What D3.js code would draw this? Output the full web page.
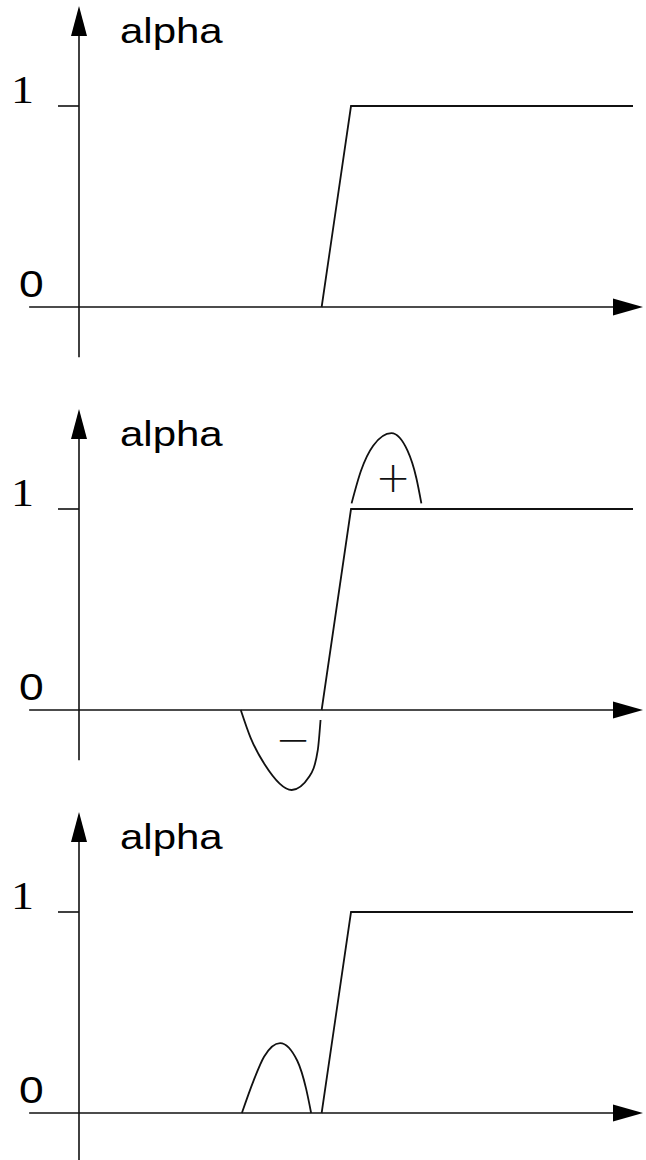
<!DOCTYPE html>
<html>
<head>
<meta charset="utf-8">
<script src="https://cdn.jsdelivr.net/npm/d3@7"></script>
<style>
  html, body { margin: 0; padding: 0; background: #fff; }
  svg { display: block; }
</style>
</head>
<body>
<div id="chart"></div>
<script>
const width = 646;
const height = 1160;

// data (x in 0..100 along the axis, y in alpha units)
const axisTitle = "alpha";
const tickValues = [0, 1];
const tickLabels = ["0", "1"];

const ramp = [[43.8, 0], [49.1, 1], [100, 1]];
const overshoot = [[49.2, 1.028], [50.9, 1.19], [53.1, 1.315], [56.4, 1.377], [59.3, 1.29], [60.9, 1.153], [61.8, 1.028]];
const undershoot = [[29.2, 0], [31.0, -0.14], [33.5, -0.27], [38.4, -0.398], [41.6, -0.33], [43.1, -0.2], [43.6, -0.05]];
const smallBump = [[29.4, 0], [31.5, 0.16], [33.4, 0.28], [36.3, 0.348], [39.4, 0.26], [41.0, 0.12], [41.9, 0]];

const signLabels = [
    { text: "+", x: 56.7, y: 1.155 },
    { text: "\u2212", x: 38.6, y: -0.145 }
];

const panels = [
    { curves: [ramp], signs: [] },
    { curves: [ramp, overshoot, undershoot], signs: signLabels },
    { curves: [ramp, smallBump], signs: [] }
];

const panelStep = 403;

const x = d3.scaleLinear().domain([0, 100]).range([79, 633]);
const y = d3.scaleLinear().domain([0, 1]).range([307, 106]);

const smooth = d3.line()
    .x(d => x(d[0]))
    .y(d => y(d[1]))
    .curve(d3.curveMonotoneX);

const straight = d3.line()
    .x(d => x(d[0]))
    .y(d => y(d[1]));

const svg = d3.select("#chart")
    .append("svg")
    .attr("width", width)
    .attr("height", height)
    .attr("viewBox", [0, 0, width, height]);

panels.forEach((p, i) => {
    const g = svg.append("g")
        .attr("transform", `translate(0,${i * panelStep})`);

    // x axis with arrow
    const x0 = x(-9), x1 = x(101.8), yz = y(0);
    g.append("line")
        .attr("x1", x0).attr("x2", x1 - 20)
        .attr("y1", yz).attr("y2", yz)
        .attr("stroke", "#111").attr("stroke-width", 1.6);
    g.append("path")
        .attr("d", `M${x1},${yz} L${x1 - 30},${yz - 8.5} L${x1 - 30},${yz + 8.5} Z`)
        .attr("fill", "#000");

    // y axis with arrow
    const ya = y(-0.25), yb = y(1.4975), xz = x(0);
    g.append("line")
        .attr("x1", xz).attr("x2", xz)
        .attr("y1", ya).attr("y2", yb + 20)
        .attr("stroke", "#111").attr("stroke-width", 1.6);
    g.append("path")
        .attr("d", `M${xz},${yb} L${xz - 8},${yb + 30} L${xz + 8},${yb + 30} Z`)
        .attr("fill", "#000");

    // tick at 1
    g.append("line")
        .attr("x1", xz - 21).attr("x2", xz)
        .attr("y1", y(1)).attr("y2", y(1))
        .attr("stroke", "#111").attr("stroke-width", 1.6);

    // tick labels
    g.append("text")
        .attr("transform", `translate(19,${y(tickValues[0]) - 10}) scale(1.2,1)`)
        .attr("font-family", "Liberation Sans, Arial, sans-serif")
        .attr("font-size", 37)
        .attr("fill", "#000")
        .text(tickLabels[0]);
    g.append("text")
        .attr("transform", `translate(11,${y(tickValues[1]) - 3}) scale(1.15,1)`)
        .attr("font-family", "Liberation Serif, Times New Roman, serif")
        .attr("font-size", 40)
        .attr("fill", "#000")
        .text(tickLabels[1]);

    // axis title
    g.append("text")
        .attr("transform", `translate(120,43) scale(1.2,1)`)
        .attr("font-family", "Liberation Sans, Arial, sans-serif")
        .attr("font-size", 35)
        .attr("fill", "#000")
        .text(axisTitle);

    // curves
    g.selectAll("path.curve")
        .data(p.curves)
        .enter()
        .append("path")
        .attr("class", "curve")
        .attr("d", d => d === ramp ? straight(d) : smooth(d))
        .attr("fill", "none")
        .attr("stroke", "#111")
        .attr("stroke-width", 1.8);

    // sign labels
    g.selectAll("text.sign")
        .data(p.signs)
        .enter()
        .append("text")
        .attr("class", "sign")
        .attr("transform", d => `translate(${x(d.x)},${y(d.y)})`)
        .attr("text-anchor", "middle")
        .attr("dominant-baseline", "central")
        .attr("font-family", "DejaVu Sans, sans-serif")
        .attr("font-weight", 200)
        .attr("font-size", 42)
        .attr("fill", "#111")
        .text(d => d.text);
});
</script>
</body>
</html>
